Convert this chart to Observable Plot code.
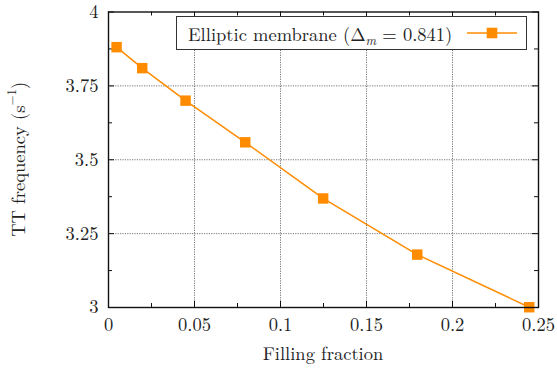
<!DOCTYPE html>
<html><head><meta charset="utf-8">
<script src="https://cdn.jsdelivr.net/npm/d3@7"></script>
<script src="https://cdn.jsdelivr.net/npm/@observablehq/plot@0.6"></script>
<style>
body{margin:0;background:#fff;}
#chart{position:relative;width:557px;height:368px;font-family:"Latin Modern Roman","CMU Serif","Liberation Serif",serif;color:#222;}
#legend{position:absolute;left:176px;top:16px;width:351px;height:34px;box-sizing:border-box;border:1px solid #333;background:#fff;font-size:18.5px;}
#legend .txt{position:absolute;left:11px;top:50%;transform:translateY(-50%);white-space:nowrap;}
#legend sub{font-size:0.7em;vertical-align:-0.3em;line-height:0;}
#legend svg{position:absolute;left:290px;top:50%;transform:translateY(-50%);}
</style></head><body><div id="chart"></div>
<script>
const fillingFraction = [0.0047, 0.0196, 0.0448, 0.0795, 0.1248, 0.1795, 0.2446];
const ttFrequency = [3.881, 3.810, 3.700, 3.559, 3.369, 3.179, 3.001];
const xTicks = [0, 0.05, 0.1, 0.15, 0.2, 0.25];
const xTickLabels = ["0", "0.05", "0.1", "0.15", "0.2", "0.25"];
const xMinorTicks = [0.025, 0.075, 0.125, 0.175, 0.225];
const yTicks = [3, 3.25, 3.5, 3.75, 4];
const yTickLabels = ["3", "3.25", "3.5", "3.75", "4"];
const yMinorTicks = [3.125, 3.375, 3.625, 3.875];
const seriesLabel = "Elliptic membrane";
const deltaM = "0.841";
const xLabel = "Filling fraction";
const yLabel = "TT frequency";

const orange = "#ff8c00";
const font = '"Latin Modern Roman","CMU Serif","Liberation Serif",serif';
const FS = 18.5;
const W = 557, H = 368, mL = 108, mR = 19, mT = 11.5, mB = 61;
const iw = W - mL - mR, ih = H - mT - mB;
const data = fillingFraction.map((x, i) => ({x, y: ttFrequency[i]}));
const xFmt = new Map(xTicks.map((t, i) => [t, xTickLabels[i]]));
const yFmt = new Map(yTicks.map((t, i) => [t, yTickLabels[i]]));

const plot = Plot.plot({
  width: W, height: H,
  marginLeft: mL, marginRight: mR, marginTop: mT, marginBottom: mB,
  style: {fontFamily: font, fontSize: FS + "px", color: "#222", background: "white", overflow: "visible"},
  x: {domain: [0, 0.25]},
  y: {domain: [3, 4]},
  marks: [
    Plot.gridX(xTicks.slice(1, -1), {stroke: "#777", strokeOpacity: 1, strokeDasharray: "1.2,1.2"}),
    Plot.gridY(yTicks.slice(1, -1), {stroke: "#777", strokeOpacity: 1, strokeDasharray: "1.2,1.2"}),
    Plot.tickX(xTicks, {x: d => d, insetTop: ih - 6, stroke: "#111"}),
    Plot.tickX(xTicks, {x: d => d, insetBottom: ih - 6, stroke: "#111"}),
    Plot.tickX(xMinorTicks, {x: d => d, insetTop: ih - 4, stroke: "#111"}),
    Plot.tickX(xMinorTicks, {x: d => d, insetBottom: ih - 4, stroke: "#111"}),
    Plot.tickY(yTicks, {y: d => d, insetRight: iw - 6, stroke: "#111"}),
    Plot.tickY(yTicks, {y: d => d, insetLeft: iw - 6, stroke: "#111"}),
    Plot.tickY(yMinorTicks, {y: d => d, insetRight: iw - 4, stroke: "#111"}),
    Plot.tickY(yMinorTicks, {y: d => d, insetLeft: iw - 4, stroke: "#111"}),
    Plot.axisX(xTicks, {tickSize: 0, tickPadding: 10, label: null, fontSize: FS, tickFormat: d => xFmt.get(d)}),
    Plot.axisY(yTicks, {tickSize: 0, tickPadding: 10, label: null, fontSize: FS, tickFormat: d => yFmt.get(d)}),
    Plot.line(data, {x: "x", y: "y", stroke: orange, strokeWidth: 1.5}),
    Plot.dot(data, {x: "x", y: "y", symbol: "square", fill: orange, stroke: "none", r: 5.9}),
    Plot.frame({stroke: "#111", strokeWidth: 1.4})
  ]
});

const chart = document.getElementById("chart");
chart.appendChild(plot);
const svg = d3.select(plot);

svg.append("text")
  .attr("x", mL + iw / 2).attr("y", 352)
  .attr("text-anchor", "middle").attr("dominant-baseline", "central")
  .attr("font-size", FS).attr("fill", "#222")
  .text(xLabel);

const yl = svg.append("text")
  .attr("transform", `translate(17,${mT + ih / 2}) rotate(-90)`)
  .attr("text-anchor", "middle").attr("dominant-baseline", "central")
  .attr("font-size", FS).attr("fill", "#222");
yl.append("tspan").text(yLabel + " (s");
yl.append("tspan").attr("font-size", 13).attr("dy", -7).text("\u22121");
yl.append("tspan").attr("dy", 7).text(")");

const legend = document.createElement("div");
legend.id = "legend";
legend.innerHTML = `<span class="txt">${seriesLabel} (\u0394<sub><i>m</i></sub> = ${deltaM})</span>` +
  `<svg width="50" height="14"><line x1="0" x2="50" y1="7" y2="7" stroke="${orange}" stroke-width="1.5"/>` +
  `<rect x="19.7" y="1.7" width="10.6" height="10.6" fill="${orange}"/></svg>`;
chart.appendChild(legend);
</script></body></html>
